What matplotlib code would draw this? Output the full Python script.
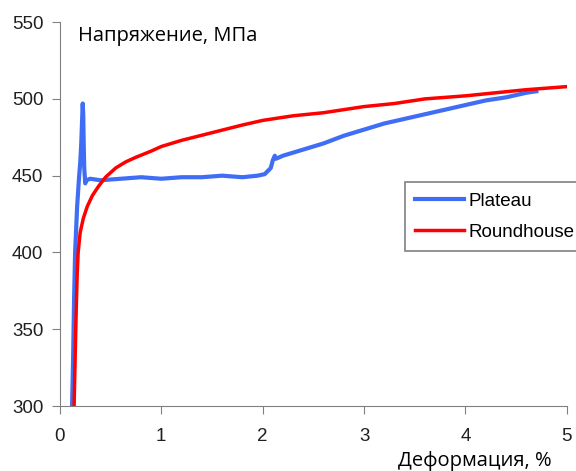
import numpy as np
import matplotlib.pyplot as plt

# Plateau curve (strain %, stress MPa)
plateau_x = [0.12, 0.13, 0.14, 0.15, 0.16, 0.17, 0.18, 0.19, 0.20, 0.21, 0.225,
             0.23, 0.235, 0.24, 0.25, 0.26, 0.30, 0.40, 0.60, 0.80, 1.00, 1.20,
             1.40, 1.60, 1.80, 1.95, 2.02, 2.08, 2.10, 2.12, 2.13, 2.20, 2.40,
             2.60, 2.80, 3.00, 3.20, 3.40, 3.60, 3.80, 4.00, 4.20, 4.40, 4.60, 4.70]
plateau_y = [300, 330, 370, 400, 415, 430, 440, 450, 458, 470, 497,
             490, 470, 455, 445, 447, 448, 447, 448, 449, 448, 449,
             449, 450, 449, 450, 451, 455, 460, 463, 461, 463, 467,
             471, 476, 480, 484, 487, 490, 493, 496, 499, 501, 504, 505]

# Roundhouse curve
round_x = [0.14, 0.15, 0.16, 0.17, 0.18, 0.20, 0.23, 0.27, 0.32, 0.38, 0.45,
           0.55, 0.65, 0.75, 0.90, 1.00, 1.20, 1.50, 1.80, 2.00, 2.30, 2.60,
           3.00, 3.30, 3.60, 4.00, 4.30, 4.60, 5.00]
round_y = [300, 330, 360, 385, 400, 413, 422, 430, 437, 443, 449,
           455, 459, 462, 466, 469, 473, 478, 483, 486, 489, 491,
           495, 497, 500, 502, 504, 506, 508]

plt.rcParams['font.family'] = ['Liberation Sans', 'DejaVu Sans']

fig = plt.figure(figsize=(5.76, 4.71), dpi=100)
ax = fig.add_axes([0.104, 0.138, 0.880, 0.815])

ax.plot(plateau_x, plateau_y, color='#3F6EF5', lw=3.0, label='Plateau', zorder=3)
ax.plot(round_x, round_y, color='#FF0000', lw=2.5, label='Roundhouse', zorder=4)

ax.set_xlim(0, 5)
ax.set_ylim(300, 550)
ax.set_xticks([0, 1, 2, 3, 4, 5])
ax.set_yticks([300, 350, 400, 450, 500, 550])
ax.spines['top'].set_visible(False)
ax.spines['right'].set_visible(False)
for s in ('left', 'bottom'):
    ax.spines[s].set_color('#808080')
ax.tick_params(direction='out', length=6, color='#808080', labelsize=13.5,
               labelcolor='#202020', pad=6)
ax.tick_params(axis='x', pad=10)

ax.text(0.035, 0.99, 'Напряжение, МПа', transform=ax.transAxes, ha='left', va='top',
        fontsize=14.5, family=['Open Sans', 'DejaVu Sans'])
fig.text(0.825, 0.0, 'Деформация, %', ha='center', va='bottom',
         fontsize=14.5, family=['Open Sans', 'DejaVu Sans'])

leg = ax.legend(loc='upper left', bbox_to_anchor=(0.68, 0.583), fontsize=13.5,
                frameon=True, fancybox=False, edgecolor='#606060',
                handlelength=2.6, handletextpad=0.25, borderpad=0.55,
                labelspacing=0.75, borderaxespad=0)
leg.get_frame().set_linewidth(1.2)

fig.savefig('out.png', dpi=100)
